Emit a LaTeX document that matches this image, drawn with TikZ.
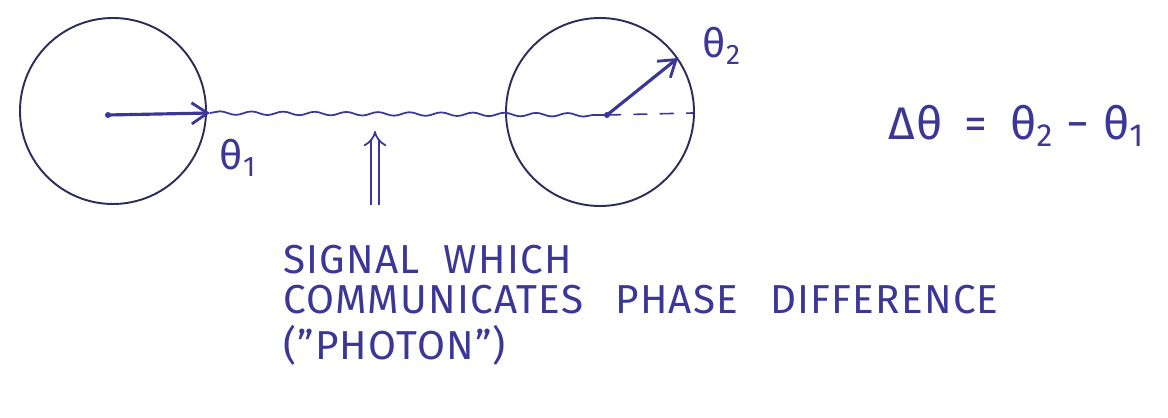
\documentclass[tikz,border=0pt]{standalone}
\usepackage{fontspec}
\setmainfont{Fira Sans}[LetterSpace=3]
\usetikzlibrary{arrows.meta,decorations.pathmorphing}
\definecolor{ink}{RGB}{60,55,150}
\definecolor{pen}{RGB}{45,45,90}
\tikzset{
  wheel/.style={pen,line width=1.1pt},
  phase/.style={ink,line width=1.8pt,-{Straight Barb[length=9pt,width=12pt,line width=1.6pt]}},
  hand/.style={ink,font=\fontsize{23}{28}\selectfont,inner sep=0pt}
}

\begin{document}
\begin{tikzpicture}[x=0.02cm,y=0.02cm]
\useasboundingbox (0,0) rectangle (1168,418);
\coordinate (c1) at (108,303);
\coordinate (c2) at (607,303);
\coordinate (p1) at (210,305);
\coordinate (p2) at (678,360);
\coordinate (d2) at (693,305);
\draw[wheel] (113,307) circle (93);
\draw[wheel] (600,306) circle (94);
\draw[ink,line width=1pt,decorate,decoration={snake,amplitude=1pt,segment length=18pt}] (p1) -- (c2);
\draw[ink,line width=0.9pt,dash pattern=on 8pt off 7pt] (c2) -- (d2);
\draw[phase] (c1) -- (p1);
\draw[phase] (c2) -- (p2);
\fill[ink] (c1) circle (3);
\fill[ink] (c2) circle (3);
\node[hand] (t1) at (238,260) {θ\textsubscript{1}};
\node[hand] (t2) at (722,372) {θ\textsubscript{2}};
\node[hand,font=\fontsize{26}{30}\selectfont] (eq) at (1016,292) {Δθ\hspace{0.2em} = \hspace{0.2em}θ\textsubscript{2} − θ\textsubscript{1}};
\coordinate (a0) at (375,213);
\coordinate (a1) at (375,287);
\draw[ink,line width=1pt,double,double distance=3.5pt,-{Implies[scale=1.6]}] (a0) -- (a1);
\node[hand,anchor=west] (l1) at (283,158) {SIGNAL\hspace{0.6em}WHICH};
\node[hand,anchor=west] (l2) at (283,118) {COMMUNICATES\hspace{0.8em}PHASE\hspace{0.8em}DIFFERENCE};
\node[hand,anchor=west] (l3) at (283,73) {("PHOTON")};
\end{tikzpicture}
\end{document}
